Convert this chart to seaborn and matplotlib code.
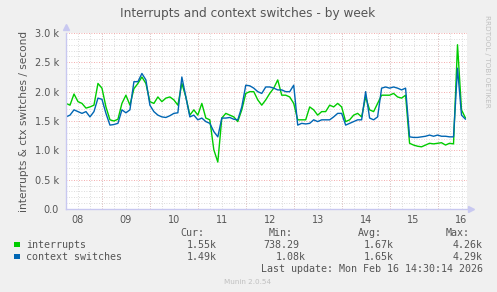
import numpy as np
import pandas as pd
import matplotlib
matplotlib.use("Agg")
import matplotlib.pyplot as plt
import seaborn as sns
from matplotlib.ticker import FuncFormatter, MultipleLocator, FixedLocator

# ---- data (hours since Feb 08 00:00, 2-hour steps) ----
start_hour = 6
step_hours = 2
interrupts = [
    1.80, 1.77, 1.96, 1.83, 1.80, 1.72, 1.74, 1.77, 2.14, 2.06,
    1.74, 1.52, 1.50, 1.53, 1.80, 1.94, 1.77, 2.05, 2.14, 2.25,
    2.14, 1.83, 1.80, 1.91, 1.83, 1.89, 1.91, 1.86, 1.77, 2.14,
    1.91, 1.60, 1.69, 1.60, 1.80, 1.55, 1.52, 1.01, 0.80, 1.55,
    1.63, 1.60, 1.57, 1.49, 1.69, 1.97, 2.00, 2.00, 1.86, 1.77,
    1.86, 1.97, 2.06, 2.20, 1.94, 1.94, 1.91, 1.80, 1.52, 1.52,
    1.52, 1.74, 1.69, 1.60, 1.66, 1.66, 1.77, 1.74, 1.80, 1.74,
    1.49, 1.52, 1.60, 1.63, 1.57, 1.91, 1.69, 1.66, 1.80, 1.94,
    1.94, 1.94, 1.97, 1.91, 1.89, 1.94, 1.12, 1.09, 1.07, 1.06,
    1.09, 1.12, 1.11, 1.12, 1.13, 1.09, 1.12, 1.11, 2.80, 1.69,
    1.55,
]
context_switches = [
    1.57, 1.60, 1.69, 1.66, 1.63, 1.66, 1.57, 1.66, 1.89, 1.87,
    1.63, 1.43, 1.44, 1.46, 1.69, 1.64, 1.69, 2.17, 2.17, 2.31,
    2.20, 1.77, 1.66, 1.60, 1.57, 1.56, 1.59, 1.63, 1.64, 2.25,
    1.91, 1.57, 1.60, 1.52, 1.55, 1.49, 1.46, 1.32, 1.23, 1.55,
    1.55, 1.56, 1.53, 1.52, 1.74, 2.11, 2.10, 2.06, 2.00, 1.97,
    2.08, 2.08, 2.06, 2.03, 2.03, 2.00, 2.00, 2.11, 1.43, 1.46,
    1.45, 1.46, 1.52, 1.49, 1.52, 1.52, 1.52, 1.57, 1.63, 1.63,
    1.43, 1.46, 1.49, 1.52, 1.52, 2.00, 1.55, 1.52, 1.57, 2.06,
    2.08, 2.06, 2.08, 2.06, 2.03, 2.06, 1.23, 1.22, 1.22, 1.23,
    1.24, 1.26, 1.24, 1.26, 1.24, 1.24, 1.23, 1.23, 2.40, 1.60,
    1.53,
]
day_labels = ["08", "09", "10", "11", "12", "13", "14", "15", "16"]
series_names = ["interrupts", "context switches"]
series_colors = ["#00CC00", "#0066B3"]
stats_cur = ["1.55k", "1.49k"]
stats_min = ["738.29", "1.08k"]
stats_avg = ["1.67k", "1.65k"]
stats_max = ["4.26k", "4.29k"]
title = "Interrupts and context switches - by week"
ylabel = "interrupts & ctx switches / second"
last_update = "Last update: Mon Feb 16 14:30:14 2026"
end_hour = 206.5

hours = start_hour + step_hours * np.arange(len(interrupts))
df = pd.concat([
    pd.DataFrame({"hour": hours, "value": np.array(interrupts) * 1000, "series": series_names[0]}),
    pd.DataFrame({"hour": hours, "value": np.array(context_switches) * 1000, "series": series_names[1]}),
])

sns.set_theme(style="white")
plt.rcParams["font.family"] = ["DejaVu Sans"]

W, H = 497, 292
fig = plt.figure(figsize=(W / 100, H / 100), dpi=100, facecolor="#F0F0F0")
ax = fig.add_axes([66 / W, 1 - 209 / H, 400.5 / W, 176 / H])
ax.set_facecolor("white")

txt = "#555555"
# grid
ax.set_xlim(start_hour, end_hour)
ax.set_ylim(0, 3000)
ax.yaxis.set_major_locator(MultipleLocator(500))
ax.yaxis.set_minor_locator(MultipleLocator(100))
ax.xaxis.set_major_locator(FixedLocator([12 + 24 * i for i in range(len(day_labels))]))
ax.xaxis.set_minor_locator(MultipleLocator(6))
ax.set_xticklabels(day_labels)
ax.yaxis.set_major_formatter(FuncFormatter(lambda v, p: "0.0" if v == 0 else f"{v/1000:.1f} k"))

ax.grid(which="minor", color="#D0D0D0", linestyle=(0, (1, 2)), linewidth=0.6)
ax.grid(which="major", axis="x", color="#D0D0D0", linestyle=(0, (1, 2)), linewidth=0.6)
ax.grid(which="major", axis="y", color="#F09090", linestyle=(0, (1, 2)), linewidth=0.6)
for d in range(1, 10):
    ax.axvline(24 * d, color="#F09090", linestyle=(0, (1, 2)), linewidth=0.6, zorder=0.5)

sns.lineplot(data=df, x="hour", y="value", hue="series", hue_order=series_names,
             palette=series_colors, ax=ax, legend=False, linewidth=1.0)
ax.set_xlabel("")
ax.set_ylabel(ylabel, fontsize=7.6, color=txt, labelpad=4)

for s in ["top", "right"]:
    ax.spines[s].set_visible(False)
for s in ["left", "bottom"]:
    ax.spines[s].set_color("#C8C8F0")
    ax.spines[s].set_linewidth(1.0)
ax.plot([0], [1.035], marker="^", color="#C8C8F0", markersize=4, transform=ax.transAxes, clip_on=False)
ax.plot([1.012], [0], marker=">", color="#C8C8F0", markersize=4, transform=ax.transAxes, clip_on=False)

ax.tick_params(axis="both", which="both", length=0, labelsize=7, colors=txt, pad=4)
ax.tick_params(axis="y", pad=5)

fig.text(248 / W, 1 - 13 / H, title, ha="center", va="center", fontsize=8.7, color=txt)
fig.text(487 / W, 1 - 15 / H, "RRDTOOL / TOBI OETIKER", rotation=-90, ha="center", va="top",
         fontsize=5.2, color="#C0C0C0")

mono = "DejaVu Sans Mono"
fs = 7.2
def t(x, y, s, ha="left", color=txt, **kw):
    fig.text(x / W, 1 - y / H, s, ha=ha, va="center", family=mono, fontsize=fs, color=color, **kw)

t(204, 233, "Cur:", ha="right")
t(293, 233, "Min:", ha="right")
t(382, 233, "Avg:", ha="right")
t(470, 233, "Max:", ha="right")
rows_y = [244.5, 256.7]
max_right = [483, 483]
min_right = [299, 306]
for i in range(2):
    y = rows_y[i]
    fig.patches.append(plt.Rectangle((14 / W, 1 - (y + 2.5) / H), 5.5 / W, 5.5 / H,
                                     transform=fig.transFigure, facecolor=series_colors[i],
                                     edgecolor="none"))
    t(26.5, y, series_names[i])
    t(217, y, stats_cur[i], ha="right")
    t(min_right[i], y, stats_min[i], ha="right")
    t(393.5, y, stats_avg[i], ha="right")
    t(max_right[i], y, stats_max[i], ha="right")
t(483, 268.7, last_update, ha="right")
fig.text(248 / W, 1 - 281.7 / H, "Munin 2.0.54", ha="center", va="center", fontsize=5.2, color="#C0C0C0")

fig.savefig("out.png", dpi=100, facecolor=fig.get_facecolor())
